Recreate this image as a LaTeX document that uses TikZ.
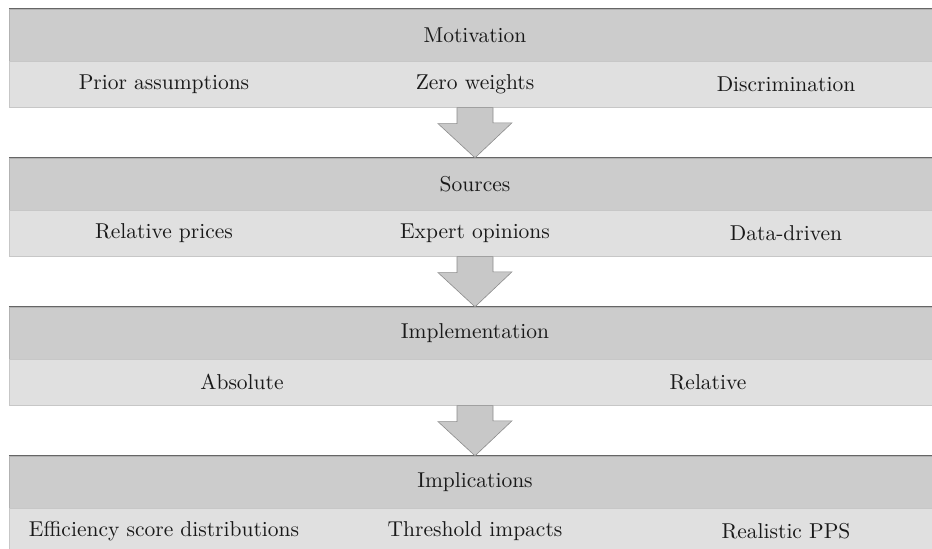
\documentclass[tikz,border=0pt]{standalone}
\usepackage{tikz}
\usetikzlibrary{positioning, calc}

\definecolor{headgray}{HTML}{CCCCCC}
\definecolor{subgray}{HTML}{E0E0E0}
\definecolor{arrowgray}{HTML}{C8C8C8}

\newcommand{\bandtext}[1]{\scalebox{2.15}{#1}}

\tikzset{
	head/.style={rectangle, inner sep=0pt, minimum width=932pt, minimum height=52pt, fill=headgray, draw=black!30, text=black!90},
	sub/.style={rectangle, inner sep=0pt, minimum width=932pt, minimum height=46pt, fill=subgray, draw=black!22},
	item/.style={text=black!90},
	topline/.style={draw=black!60, line width=0.9pt},
	bigarrow/.style={fill=arrowgray, draw=black!45, line width=0.6pt, line join=miter}
}

\begin{document}
\begin{tikzpicture}[x=1pt, y=1pt]
	\useasboundingbox (0,0) rectangle (932,-549);
	\node[head] (mot) at (475,-35) {\bandtext{Motivation}};
	\node[sub, below=0pt of mot] (motsub) {};
	\node[head] (src) at (475,-184) {\bandtext{Sources}};
	\node[sub, below=0pt of src] (srcsub) {};
	\node[head] (imp) at (475,-333) {\bandtext{Implementation}};
	\node[sub, below=0pt of imp] (impsub) {};
	\node[head] (impl) at (475,-482) {\bandtext{Implications}};
	\node[sub, below=0pt of impl] (implsub) {};
	\foreach \b in {mot, src, imp, impl}
		\draw[topline] (\b.north west) -- (\b.north east);
	% items
	\node[item] (prior) at ($(motsub.center)+(-311,0)$) {\bandtext{Prior assumptions}};
	\node[item] (zero) at (motsub.center) {\bandtext{Zero weights}};
	\node[item] (discr) at ($(motsub.center)+(311,0)$) {\bandtext{Discrimination}};
	\node[item] (relp) at ($(srcsub.center)+(-311,0)$) {\bandtext{Relative prices}};
	\node[item] (expert) at (srcsub.center) {\bandtext{Expert opinions}};
	\node[item] (data) at ($(srcsub.center)+(311,0)$) {\bandtext{Data-driven}};
	\node[item] (abs) at ($(impsub.center)+(-233,0)$) {\bandtext{Absolute}};
	\node[item] (rel) at ($(impsub.center)+(233,0)$) {\bandtext{Relative}};
	\node[item] (effic) at ($(implsub.center)+(-311,0)$) {\bandtext{Efficiency score distributions}};
	\node[item] (thresh) at (implsub.center) {\bandtext{Threshold impacts}};
	\node[item] (pps) at ($(implsub.center)+(311,0)$) {\bandtext{Realistic PPS}};
	% arrows
	\foreach \a/\b in {motsub/src, srcsub/imp, impsub/impl}
		\draw[bigarrow] ($(\a.south)+(-18,0)$) -- ++(0,-16) -- ++(-19,0) -- (\b.north) -- ++(37,35) -- ++(-19,0) -- ($(\a.south)+(18,0)$) -- cycle;
\end{tikzpicture}
\end{document}
